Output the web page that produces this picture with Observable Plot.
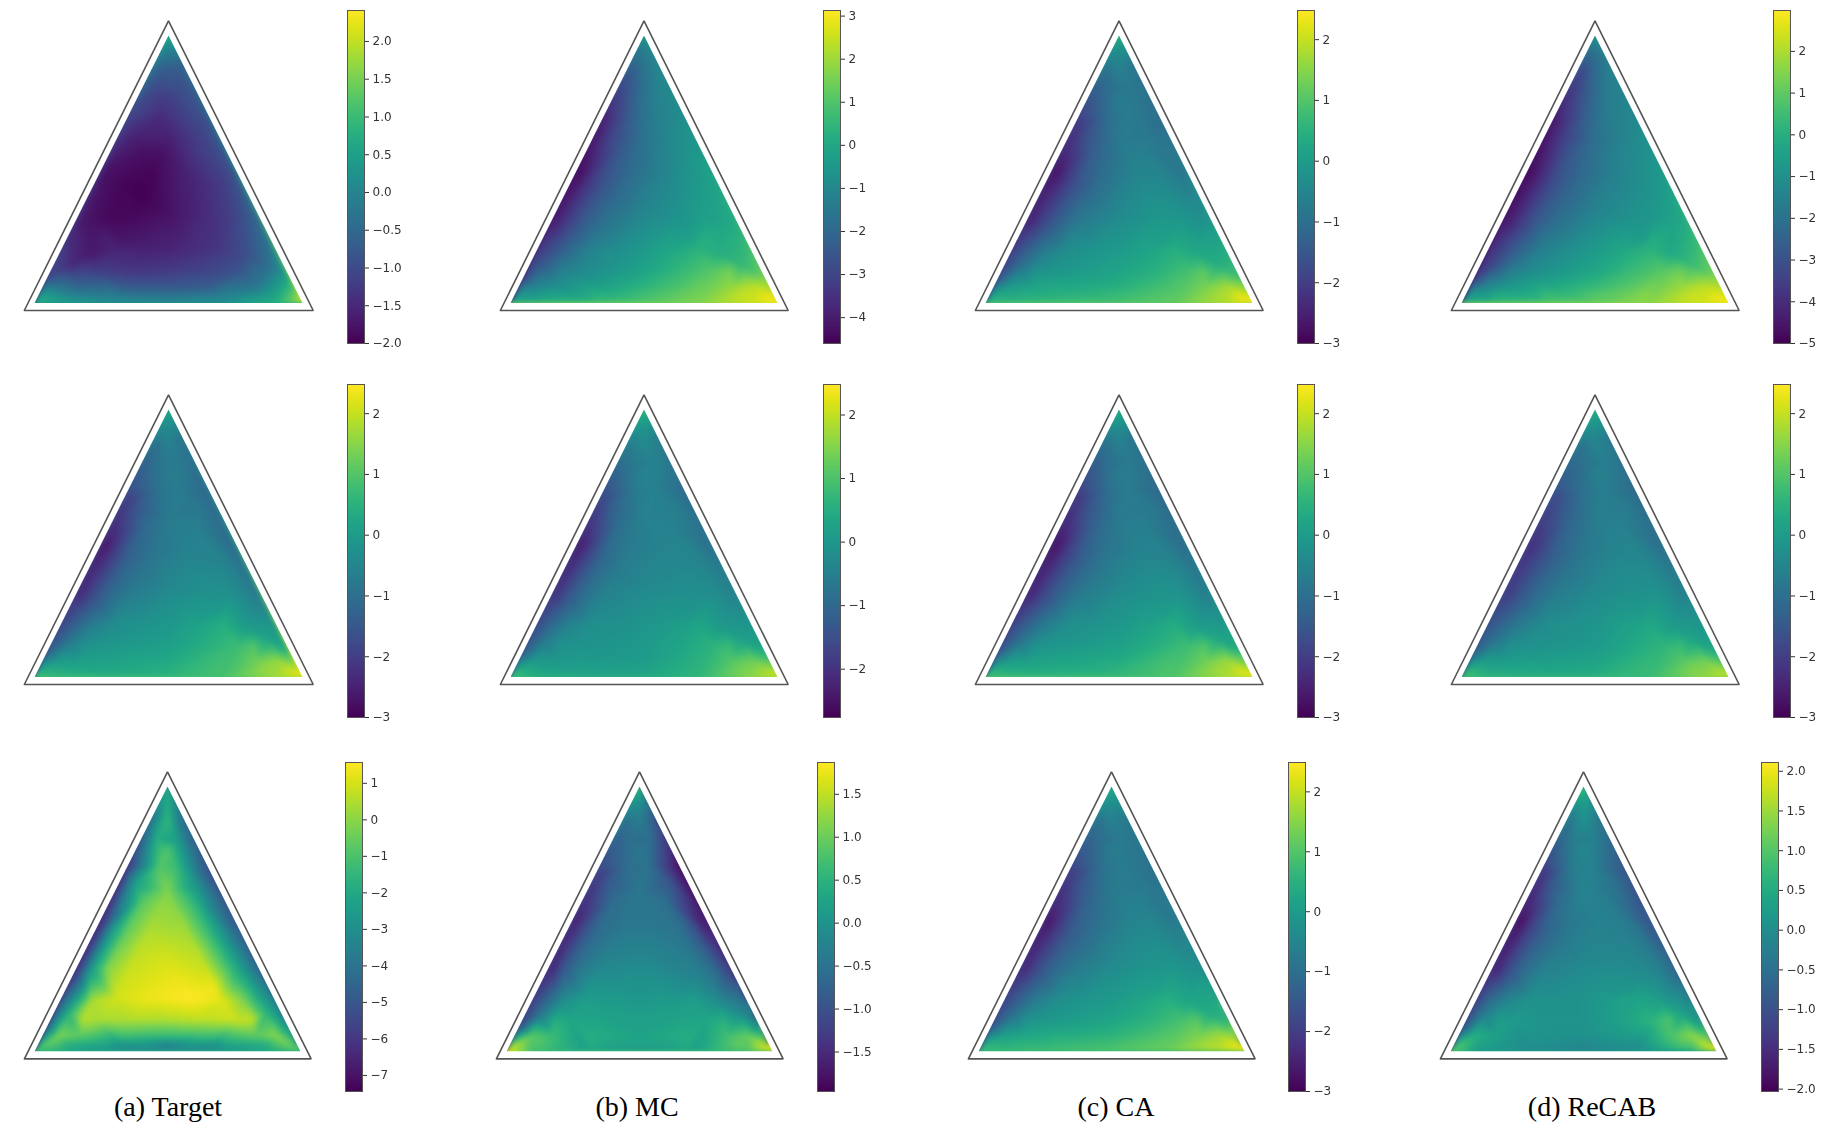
<!DOCTYPE html>
<html>
<head>
<meta charset="utf-8">
<script src="https://cdn.jsdelivr.net/npm/d3@7"></script>
<script src="https://cdn.jsdelivr.net/npm/@observablehq/plot@0.6"></script>
<style>
html,body{margin:0;padding:0;background:#fff}
#page{position:relative;width:1834px;height:1140px;overflow:hidden;background:#fff}
#page svg{position:absolute;overflow:visible;background:transparent;filter:blur(.45px)}
.cap{position:absolute;transform:translateX(-50%);font:28px "Liberation Serif",serif;color:#000;white-space:nowrap;line-height:30px}
</style>
</head>
<body>
<div id="page"></div>
<script>
// each ring runs: top, 5 on left edge, bottom-left, 5 on bottom edge, bottom-right, 5 on right edge; last row is the centre
const ringInsets = [0, .025, .06, .12, .2];
const edgeStops = [0, .1, .3, .5, .7, .9];

const targetA = [
 [.65, -.3,-1.05,-1.65,-1.55,-1.05, .9, .55,.2,.1,.2,.75, 2.05, .6,-.4,-.75,-.8,-.5],
 [-.05, -.7,-1.3,-1.8,-1.7,-1.1, .5, .05,-.15,-.25,-.1,.45, 1.3, .1,-.6,-.95,-.95,-.8],
 [-.7, -1.05,-1.55,-1.85,-1.8,-1.45, -.25, -.55,-.75,-.8,-.7,-.25, .45, -.45,-.9,-1.15,-1.1,-.95],
 [-1.2, -1.45,-1.8,-1.95,-1.9,-1.7, -1.1, -1.2,-1.3,-1.25,-1.1,-.9, -.5, -.95,-1.2,-1.35,-1.3,-1.25],
 [-1.65, -1.8,-1.95,-2,-1.9,-1.75, -1.55, -1.55,-1.6,-1.55,-1.45,-1.35, -1.25, -1.35,-1.45,-1.55,-1.6,-1.65],
 [-1.8]];
const mcA = [
 [-.6, -2.1,-3.8,-4.45,-4,-2.9, -.35, 0,.4,.95,1.6,2.5, 3.1, 1.45,.2,-.2,-.8,-1.05],
 [-1.35, -2.45,-3.65,-4.2,-3.8,-2.5, -.35, -.1,.35,.8,1.5,2.5, 2.9, .95,.05,-.25,-.8,-1.1],
 [-1.65, -2.3,-3.05,-3.5,-3.2,-2.3, -1.1, -.75,-.2,.4,1.1,1.9, 2.35, .55,-.1,-.45,-.85,-1.2],
 [-1.65, -2.05,-2.5,-2.65,-2.45,-1.9, -1.35, -1.05,-.6,-.1,.5,1.1, 1.45, .2,-.25,-.6,-1,-1.35],
 [-1.65, -1.8,-1.95,-1.95,-1.75,-1.45, -1.2, -.95,-.75,-.45,-.1,.2, .35, -.25,-.6,-.9,-1.2,-1.45],
 [-1.05]];
const caA = [
 [.4, -.7,-1.9,-2.73,-2.45,-1.63, .4, .56,.73,.84,1.11,1.82, 2.45, .8,-.1,-.75,-1,-.75],
 [-.26, -1.03,-2.01,-2.67,-2.34,-1.36, .4, .4,.56,.73,1.06,1.77, 2.32, .65,-.25,-.85,-1,-.85],
 [-.59, -1.03,-1.68,-2.23,-1.9,-1.03, 0, .18,.29,.45,.84,1.38, 1.77, .4,-.2,-.65,-.85,-.8],
 [-.7, -.97,-1.36,-1.58,-1.36,-.7, -.26, -.15,0,.18,.45,.84, 1.06, .29,-.1,-.42,-.64,-.7],
 [-.75, -.92,-1.03,-1.03,-.81,-.48, -.37, -.26,-.15,-.04,.12,.29, .4, .07,-.1,-.31,-.53,-.7],
 [-.42]];
const recabA = [
 [-1, -2.9,-4.35,-4.85,-4.5,-3.65, -.6, -.05,.45,.9,1.55,2.4, 2.95, 1.4,-.05,-.7,-1.25,-1.5],
 [-1.95, -3.25,-4.2,-4.6,-4.35,-3.4, -.45, -.05,.45,.9,1.6,2.4, 2.75, .9,-.2,-.8,-1.3,-1.6],
 [-2.3, -2.9,-3.65,-4.05,-3.8,-3, -1.35, -.75,-.2,.35,1.05,1.8, 2.2, .45,-.45,-.95,-1.35,-1.65],
 [-2.2, -2.55,-2.9,-3.1,-2.9,-2.35, -1.65, -1.25,-.75,-.3,.35,.9, 1.2, -.2,-.7,-1.1,-1.4,-1.75],
 [-2.05, -2.2,-2.35,-2.35,-2.2,-1.8, -1.55, -1.35,-1,-.7,-.35,-.05, .1, -.6,-.95,-1.25,-1.55,-1.8],
 [-1.4]];
const targetB = [
 [.29, -.7,-1.68,-2.67,-2.34,-1.36, .84, .62,.4,.5,.84,1.66, 2.37, .4,-.7,-1.14,-1.2,-.85],
 [-.26, -1.03,-1.9,-2.56,-2.23,-1.25, .4, .29,.29,.45,.84,1.66, 2.1, .18,-.7,-1.03,-1.05,-.85],
 [-.6, -.92,-1.58,-2.07,-1.79,-.92, 0, .07,.18,.29,.73,1.27, 1.6, .18,-.48,-.7,-.85,-.75],
 [-.7, -.92,-1.2,-1.36,-1.2,-.64, -.26, -.15,-.04,.07,.4,.73, .95, 0,-.26,-.53,-.64,-.7],
 [-.75, -.8,-.92,-.92,-.75,-.48, -.37, -.26,-.2,-.1,.07,.29, .4, -.04,-.26,-.42,-.6,-.7],
 [-.45]];
const mcB = [
 [.65, -.4,-1.45,-2.4,-1.97,-1.2, 1, .5,.3,.3,.65,1.55, 2.2, .38,-.4,-.85,-.9,-.5],
 [.12, -.56,-1.5,-2.24,-1.87,-1.03, .5, .23,.17,.23,.6,1.43, 1.8, .23,-.4,-.75,-.75,-.5],
 [-.24, -.66,-1.19,-1.71,-1.4,-.66, .07, .02,.07,.12,.49,1.07, 1.33, .17,-.24,-.5,-.55,-.45],
 [-.4, -.61,-.87,-1.03,-.87,-.4, -.14, -.09,-.03,.07,.28,.6, .75, .07,-.19,-.35,-.45,-.45],
 [-.45, -.56,-.61,-.61,-.45,-.3, -.19, -.14,-.14,-.03,.07,.17, .28, -.03,-.19,-.35,-.4,-.45],
 [-.3]];
const caB = [
 [.4, -.7,-1.9,-2.75,-2.4,-1.5, .85, .6,.55,.6,.95,1.75, 2.4, .5,-.6,-1.1,-1.15,-.8],
 [-.2, -1.05,-2,-2.65,-2.3,-1.3, .45, .35,.4,.55,.95,1.7, 2.15, .25,-.65,-1,-1,-.8],
 [-.6, -1,-1.65,-2.15,-1.85,-1, 0, .1,.2,.35,.8,1.3, 1.65, .25,-.4,-.7,-.8,-.75],
 [-.7, -.95,-1.3,-1.5,-1.3,-.7, -.25, -.15,-.05,.1,.4,.75, .95, .05,-.2,-.5,-.65,-.7],
 [-.75, -.85,-.95,-.95,-.8,-.5, -.35, -.25,-.2,-.1,.05,.25, .35, 0,-.2,-.4,-.6,-.7],
 [-.42]];
const recabB = [
 [.45, -.6,-1.55,-2.3,-2.05,-1.2, .95, .55,.4,.4,.7,1.5, 2, .3,-.55,-1.05,-1.1,-.75],
 [-.1, -.95,-1.75,-2.2,-1.95,-1.15, .5, .25,.2,.3,.7,1.45, 1.75, .1,-.6,-.95,-.95,-.7],
 [-.5, -.95,-1.5,-1.85,-1.6,-.9, 0, 0,.05,.15,.55,1.05, 1.3, .15,-.35,-.65,-.75,-.65],
 [-.65, -.9,-1.2,-1.35,-1.15,-.7, -.3, -.25,-.15,-.05,.25,.55, .7, 0,-.2,-.45,-.6,-.65],
 [-.7, -.8,-.9,-.9,-.75,-.5, -.4, -.3,-.25,-.15,0,.15, .25, -.05,-.25,-.4,-.55,-.65],
 [-.45]];
const targetC = [
 [-1.85, -3.85,-6,-6.7,-6.35,-4.55, -1.3, -1.85,-3.1,-3.65,-3.1,-1.85, -.95, -2.95,-4.3,-4.9,-5.2,-4],
 [-1.85, -2.95,-4.3,-5.2,-4.75,-2.95, -.7, -1.85,-2.75,-3.3,-2.75,-1.85, -.4, -2.2,-3.65,-4.4,-4.55,-3.65],
 [-1.5, -1.85,-2.5,-2.75,-2.5,-1.6, -.25, -.7,-1.15,-1.3,-1.15,-.7, -.05, -1.5,-2.6,-3.1,-3.3,-2.6],
 [-.9, -.85,-.85,-.55,-.1,.45, .55, .4,.5,.5,.7,.85, .7, -.1,-1,-1.35,-1.55,-1.3],
 [-.1, .05,.35,.65,.8,.9, .9, 1.05,1.3,1.45,1.57,1.4, 1.15, 1.3,.8,.5,.2,-.1],
 [1.05]];
const mcC = [
 [.55, -.35,-1.05,-1.65,-1.6,-1.2, 1.7, .7,.15,.05,.15,.8, 1.75, -.25,-1.2,-1.75,-1.8,-.8],
 [.05, -.6,-1.2,-1.5,-1.4,-.8, 1.4, .8,.4,.25,.4,.95, 1.5, -.1,-1.05,-1.6,-1.5,-.75],
 [-.3, -.6,-.9,-1.05,-.9,-.45, .9, .65,.4,.25,.4,.7, .95, -.05,-.65,-1,-1,-.6],
 [-.45, -.55,-.6,-.6,-.45,-.05, .4, .3,.25,.2,.25,.3, .45, -.05,-.35,-.5,-.55,-.5],
 [-.45, -.45,-.45,-.35,-.2,.05, .15, .1,.1,.05,.1,.1, .15, -.1,-.25,-.35,-.45,-.45],
 [-.15]];
const caC = [
 [.45, -.65,-1.8,-2.7,-2.35,-1.5, .75, .7,.85,1,1.25,1.9, 2.45, .8,-.1,-.7,-.95,-.7],
 [-.15, -1,-1.95,-2.6,-2.25,-1.3, .55, .55,.7,.85,1.15,1.8, 2.25, .55,-.25,-.8,-.95,-.8],
 [-.55, -1,-1.6,-2.1,-1.8,-1, .1, .25,.4,.55,.9,1.4, 1.7, .35,-.2,-.6,-.8,-.75],
 [-.7, -.95,-1.3,-1.45,-1.25,-.65, -.2, -.1,.05,.2,.5,.85, 1.05, .25,-.1,-.4,-.6,-.7],
 [-.75, -.9,-1,-1,-.8,-.5, -.35, -.25,-.15,-.05,.1,.3, .4, .05,-.15,-.35,-.55,-.7],
 [-.42]];
const recabC = [
 [.8, -.3,-1.2,-1.9,-1.6,-1, 1.05, .25,-.1,-.2,-.1,.65, 2, .25,-.6,-1,-.9,-.3],
 [.35, -.4,-1.3,-1.8,-1.55,-.6, .95, .3,.05,-.1,.05,.95, 1.7, .25,-.45,-.85,-.8,-.3],
 [.1, -.3,-.9,-1.3,-1.1,-.25, .6, .3,.1,.05,.25,.95, 1.4, .35,-.2,-.45,-.5,-.25],
 [-.1, -.25,-.6,-.8,-.6,-.1, .25, .2,.1,.1,.3,.65, .95, .3,-.1,-.25,-.3,-.2],
 [-.15, -.25,-.4,-.4,-.25,-.05, .05, .05,.05,.1,.2,.35, .35, .1,-.05,-.15,-.2,-.2],
 [-.1]];

const fields = [targetA, mcA, caA, recabA, targetB, mcB, caB, recabB, targetC, mcC, caC, recabC];

const colorDomains = [
 [-2,2.41],[-4.6,3.13],[-3,2.48],[-5,2.98],
 [-3,2.48],[-2.76,2.48],[-3,2.48],[-3,2.48],
 [-7.44,1.57],[-1.96,1.87],[-3,2.49],[-2.03,2.11]];
const colorTicks = [
 [-2,-1.5,-1,-.5,0,.5,1,1.5,2],[-4,-3,-2,-1,0,1,2,3],[-3,-2,-1,0,1,2],[-5,-4,-3,-2,-1,0,1,2],
 [-3,-2,-1,0,1,2],[-2,-1,0,1,2],[-3,-2,-1,0,1,2],[-3,-2,-1,0,1,2],
 [-7,-6,-5,-4,-3,-2,-1,0,1],[-1.5,-1,-.5,0,.5,1,1.5],[-3,-2,-1,0,1,2],[-2,-1.5,-1,-.5,0,.5,1,1.5,2]];

// layout: inner triangle left/right, colourbar left, per panel; rows share verticals
const innerLeft  = [34,510,985,1461, 34,510,985,1461, 34,506,978,1450];
const innerRight = [302,777,1252,1728, 302,777,1252,1728, 300,772,1244,1716];
const barLeft    = [347,823,1297,1773, 347,823,1297,1773, 345,817,1288,1761];
const rowApex = [34.5,408.5,786], rowBase = [302,676,1051];
const barTop  = [10,384,762], barBottom = [343,717,1091];
const frameCorners = [[-.038,-.028],[1.04,-.028],[.5,1.055],[-.038,-.028]];
const captions = ["(a) Target","(b) MC","(c) CA","(d) ReCAB"];
const captionX = [168,637,1116,1592];

function latticePoints(rings){
  const pts=[];
  ringInsets.forEach((t,r)=>{
    const A=[.5,1-2*t], B=[t*1.5,t], C=[1-t*1.5,t];
    const corners=[A,B,C,A];
    rings[r].forEach((v,i)=>{
      const s=Math.floor(i/6), f=edgeStops[i%6];
      pts.push({x:corners[s][0]+(corners[s+1][0]-corners[s][0])*f, y:corners[s][1]+(corners[s+1][1]-corners[s][1])*f, v});
    });
  });
  pts.push({x:.5,y:1/3,v:rings[rings.length-1][0]});
  return pts;
}

const page=document.getElementById("page");
fields.forEach((rings,i)=>{
  const row=Math.floor(i/4);
  const L=innerLeft[i],R=innerRight[i],T=rowApex[row],B=rowBase[row];
  const pad=20;
  const sl=L-pad, st=T-pad, sw=R-L+2*pad, sh=B-T+2*pad;
  const pts=latticePoints(rings);
  const plot=Plot.plot({
    width:sw,height:sh,margin:0,
    x:{domain:[0,1],range:[pad,pad+R-L],axis:null},
    y:{domain:[0,1],range:[pad+B-T,pad],axis:null},
    color:{type:"linear",domain:colorDomains[i],scheme:"viridis"},
    marks:[
      Plot.raster(pts,{x:"x",y:"y",fill:"v",x1:-.04,x2:1.04,y1:-.04,y2:1.04,interpolate:"barycentric",pixelSize:1}),
      Plot.line(frameCorners,{x:d=>d[0],y:d=>d[1],stroke:"#555",strokeWidth:1.6,strokeLinejoin:"miter",clip:false})
    ]
  });
  const sx=plot.scale("x"), sy=plot.scale("y");
  const id="tri"+i;
  const svg=d3.select(plot);
  svg.append("clipPath").attr("id",id).append("polygon")
    .attr("points",[[0,0],[1,0],[.5,1]].map(p=>[sx.apply(p[0]),sy.apply(p[1])].join(",")).join(" "));
  const img=svg.select("image");
  img.style("filter","blur(2.5px)");
  d3.select(img.node().parentNode).attr("clip-path",`url(#${id})`);
  plot.style.left=sl+"px"; plot.style.top=st+"px";
  page.appendChild(plot);

  const bl=barLeft[i], bt=barTop[row], bb=barBottom[row], bw=17;
  const dom=colorDomains[i];
  const tk=colorTicks[i];
  const fmt=tk.some(v=>v%1!==0)?d3.format(".1f"):d3.format("d");
  const bar=Plot.plot({
    width:bw+60,height:bb-bt+20,marginLeft:0,marginRight:60,marginTop:10,marginBottom:10,
    style:{fontFamily:"DejaVu Sans",fontSize:"12px",color:"#333",background:"transparent"},
    x:{domain:[0,1],axis:null},
    y:{domain:dom,label:null,axis:null},
    color:{type:"linear",domain:dom,scheme:"viridis"},
    marks:[
      Plot.raster({x1:0,x2:1,y1:dom[0],y2:dom[1],fill:(x,y)=>y,pixelSize:1}),
      Plot.frame({stroke:"#555",strokeWidth:1}),
      Plot.axisY({anchor:"right",ticks:tk,tickFormat:fmt,tickSize:4,tickPadding:4,label:null,stroke:"#333",fill:"#333"})
    ]
  });
  bar.style.left=bl+"px"; bar.style.top=(bt-10)+"px";
  page.appendChild(bar);
});

captions.forEach((c,j)=>{
  const d=document.createElement("div");
  d.className="cap"; d.textContent=c;
  d.style.left=captionX[j]+"px"; d.style.top="1092px";
  page.appendChild(d);
});
</script>
</body>
</html>
